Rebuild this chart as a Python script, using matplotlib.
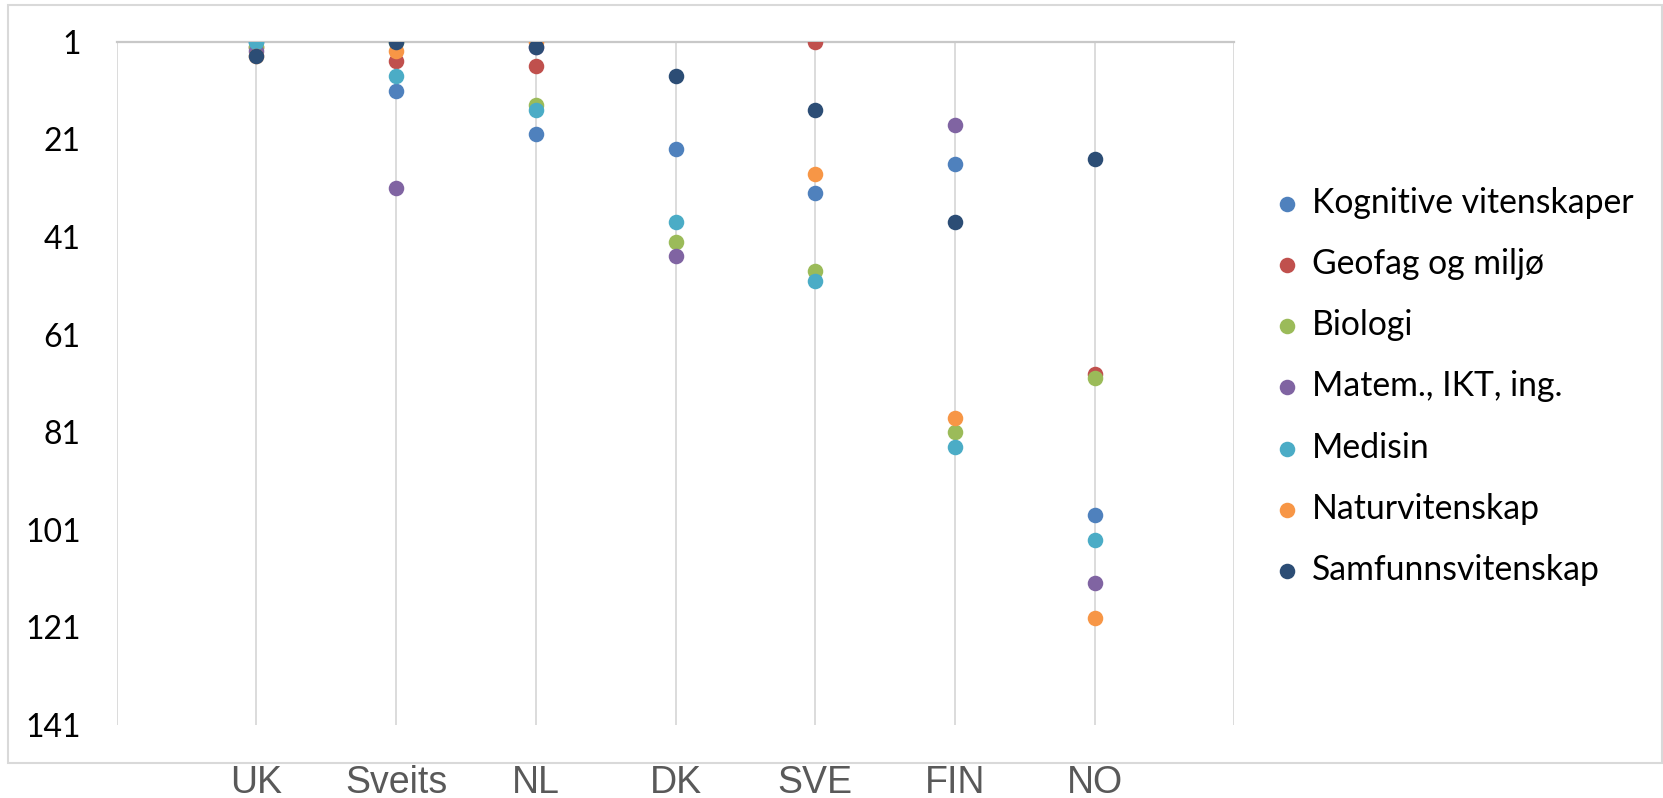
import matplotlib
matplotlib.use("Agg")
import matplotlib.pyplot as plt
import numpy as np
from matplotlib.patches import Rectangle

countries = ["UK", "Sveits", "NL", "DK", "SVE", "FIN", "NO"]

# rank per field (lower = better), nan = no point shown
kognitive = [1, 11, 20, 23, 32, 26, 98]
geofag = [2, 5, 6, np.nan, 1, np.nan, 69]
biologi = [2, 1, 14, 42, 48, 81, 70]
matem = [3, 31, 2, 45, np.nan, 18, 112]
medisin = [1, 8, 15, 38, 50, 84, 103]
natur = [4, 3, 1, np.nan, 28, 78, 119]
samfunn = [4, 1, 2, 8, 15, 38, 25]

series_names = ["Kognitive vitenskaper", "Geofag og miljø", "Biologi",
                "Matem., IKT, ing.", "Medisin", "Naturvitenskap",
                "Samfunnsvitenskap"]
series_values = [kognitive, geofag, biologi, matem, medisin, natur, samfunn]
colors = ["#4F81BD", "#C0504D", "#9BBB59", "#8064A2", "#4BACC6",
          "#F79646", "#2C4D75"]

y_ticks = [1, 21, 41, 61, 81, 101, 121, 141]

fig = plt.figure(figsize=(16.63, 7.98), dpi=100)
ax = fig.add_axes([0.0702, 0.0915, 0.6721, 0.8562])

x = np.arange(1, len(countries) + 1)
for name, vals, c in zip(series_names, series_values, colors):
    ax.scatter(x, vals, s=125, color=c, label=name, zorder=3, linewidths=0)

ax.set_xlim(0, 8)
ax.set_ylim(141, 1)
ax.set_yticks(y_ticks)
ax.set_yticklabels([str(t) for t in y_ticks], fontfamily="Lato", fontsize=23)
ax.set_xticks(range(0, 9))
ax.set_xticklabels([""] + countries + [""], fontfamily="Liberation Sans",
                   fontsize=27, color="#595959")
ax.tick_params(axis="y", length=0, pad=26)
ax.tick_params(axis="x", length=0, pad=29)
ax.grid(axis="x", color="#d9d9d9", linewidth=1.3, zorder=0)
ax.set_axisbelow(True)
for side in ["left", "right", "bottom"]:
    ax.spines[side].set_visible(False)
ax.spines["top"].set_color("#c8c8c8")
ax.spines["top"].set_linewidth(1.6)

leg = fig.legend(loc="upper left", bbox_to_anchor=(0.768, 0.766),
                 frameon=False, prop={"family": "Lato", "size": 24.3},
                 handlelength=0.6, handletextpad=0.42, labelspacing=0.865,
                 borderpad=0, borderaxespad=0, scatterpoints=1)

fig.patches.append(Rectangle((0.0048, 0.0439), 0.9946, 0.9498,
                             transform=fig.transFigure, fill=False,
                             edgecolor="#d9d9d9", linewidth=1.5))

fig.savefig("out.png", dpi=100)
